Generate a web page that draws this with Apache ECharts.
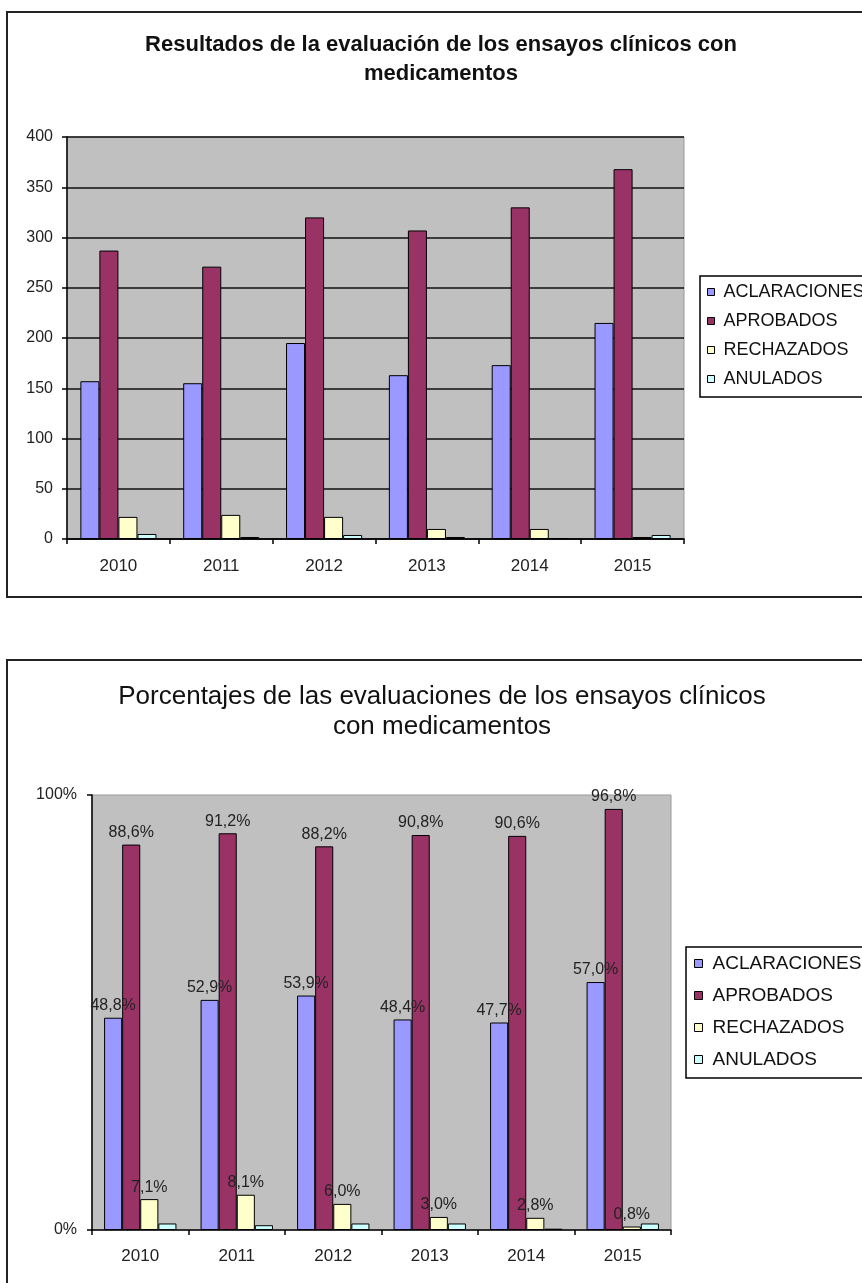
<!DOCTYPE html>
<html>
<head>
<meta charset="utf-8">
<script src="https://cdn.jsdelivr.net/npm/echarts@6/dist/echarts.min.js"></script>
<style>
  html, body { margin: 0; padding: 0; background: #fff; overflow: hidden; }
  #chart { width: 862px; height: 1283px; }
</style>
</head>
<body>
<div id="chart"></div>
<script>
const years = ["2010", "2011", "2012", "2013", "2014", "2015"];
const seriesNames = ["ACLARACIONES", "APROBADOS", "RECHAZADOS", "ANULADOS"];

// número de ensayos evaluados
const aclaraciones = [157, 155, 195, 163, 173, 215];
const aprobados = [287, 271, 320, 307, 330, 368];
const rechazados = [22, 24, 22, 10, 10, 2];
const anulados = [5, 2, 4, 2, 1, 4];

// porcentajes
const pctAclaraciones = [48.8, 52.9, 53.9, 48.4, 47.7, 57.0];
const pctAprobados = [88.6, 91.2, 88.2, 90.8, 90.6, 96.8];
const pctRechazados = [7.1, 8.1, 6.0, 3.0, 2.8, 0.8];
const pctAnulados = [1.5, 1.1, 1.5, 1.5, 0.3, 1.5];

const colors = ["#9999FF", "#993366", "#FFFFCC", "#CCFFFF"];
const FONT = "'Liberation Sans', Arial, sans-serif";

const chart = echarts.init(document.getElementById("chart"));

function bar(name, data, xi, yi, gap, withLabel){
  return {
    name, type: "bar", data,
    xAxisIndex: xi, yAxisIndex: yi,
    barGap: "0%", barCategoryGap: gap,
    itemStyle: { borderColor: "#000", borderWidth: 1 },
    label: withLabel ? {
      show: true, position: "top", distance: 4,
      fontFamily: FONT, fontSize: 16, color: "#222",
      formatter: p => p.value.toFixed(1).replace(".", ",") + "%"
    } : { show: false },
    animation: false
  };
}

const legendBase = {
  orient: "vertical",
  icon: "rect",
  itemStyle: { borderColor: "#000", borderWidth: 1 },
  borderColor: "#000",
  borderWidth: 1.5,
  data: seriesNames,
  selectedMode: false
};

const option = {
  backgroundColor: "#fff",
  color: colors,
  animation: false,
  title: [
    {
      text: "Resultados de la evaluación de los ensayos clínicos con\nmedicamentos",
      left: 441, top: 30, textAlign: "center", padding: 0,
      textStyle: { fontFamily: FONT, fontSize: 22, fontWeight: "bold", color: "#111", lineHeight: 29 }
    },
    {
      text: "Porcentajes de las evaluaciones de los ensayos clínicos\ncon medicamentos",
      left: 442, top: 682, textAlign: "center", padding: 0,
      textStyle: { fontFamily: FONT, fontSize: 26, fontWeight: "normal", color: "#111", lineHeight: 30 }
    }
  ],
  legend: [
    Object.assign({}, legendBase, {
      left: 700, top: 276,
      itemWidth: 7, itemHeight: 7, itemGap: 11,
      padding: [7, 10, 9, 7],
      textStyle: { fontFamily: FONT, fontSize: 18, lineHeight: 18, color: "#111", padding: [0, 0, 0, 4] }
    }),
    Object.assign({}, legendBase, {
      left: 686, top: 947,
      itemWidth: 8, itemHeight: 8, itemGap: 13,
      padding: [7, 10, 9, 8],
      textStyle: { fontFamily: FONT, fontSize: 19, lineHeight: 19, color: "#111", padding: [0, 0, 0, 5] }
    })
  ],
  graphic: [
    { type: "rect", shape: { x: 7, y: 12, width: 900, height: 585 }, style: { fill: "none", stroke: "#222", lineWidth: 2 } },
    { type: "rect", shape: { x: 7, y: 660, width: 900, height: 700 }, style: { fill: "none", stroke: "#222", lineWidth: 2 } }
  ],
  grid: [
    { left: 67, top: 137, width: 617, height: 402, show: true, backgroundColor: "#C0C0C0", borderColor: "#999", borderWidth: 1 },
    { left: 92, top: 795, width: 579, height: 435, show: true, backgroundColor: "#C0C0C0", borderColor: "#999", borderWidth: 1 }
  ],
  xAxis: [
    {
      type: "category", data: years, gridIndex: 0,
      axisLine: { lineStyle: { color: "#000", width: 1.5 } },
      axisTick: { show: true, length: 5, lineStyle: { color: "#000", width: 1.5 } },
      axisLabel: { fontFamily: FONT, fontSize: 17, color: "#222", margin: 19 }
    },
    {
      type: "category", data: years, gridIndex: 1,
      axisLine: { lineStyle: { color: "#000", width: 1.5 } },
      axisTick: { show: true, length: 5, lineStyle: { color: "#000", width: 1.5 } },
      axisLabel: { fontFamily: FONT, fontSize: 17, color: "#222", margin: 18 }
    }
  ],
  yAxis: [
    {
      type: "value", gridIndex: 0, min: 0, max: 400, interval: 50,
      axisLine: { show: true, lineStyle: { color: "#000", width: 1.5 } },
      axisTick: { show: true, length: 5, lineStyle: { color: "#000", width: 1.5 } },
      splitLine: { show: true, lineStyle: { color: "#111", width: 1.5 } },
      axisLabel: { fontFamily: FONT, fontSize: 16, color: "#222", margin: 14 }
    },
    {
      type: "value", gridIndex: 1, min: 0, max: 100, interval: 100,
      axisLine: { show: true, lineStyle: { color: "#000", width: 1.5 } },
      axisTick: { show: true, length: 5, lineStyle: { color: "#000", width: 1.5 } },
      splitLine: { show: false },
      axisLabel: { fontFamily: FONT, fontSize: 16, color: "#222", margin: 15, formatter: "{value}%" }
    }
  ],
  series: [
    bar("ACLARACIONES", aclaraciones, 0, 0, "26%", false),
    bar("APROBADOS", aprobados, 0, 0, "26%", false),
    bar("RECHAZADOS", rechazados, 0, 0, "26%", false),
    bar("ANULADOS", anulados, 0, 0, "26%", false),
    bar("ACLARACIONES", pctAclaraciones, 1, 1, "25%", true),
    bar("APROBADOS", pctAprobados, 1, 1, "25%", true),
    bar("RECHAZADOS", pctRechazados, 1, 1, "25%", true),
    bar("ANULADOS", pctAnulados, 1, 1, "25%", false)
  ]
};

chart.setOption(option);
</script>
</body>
</html>
